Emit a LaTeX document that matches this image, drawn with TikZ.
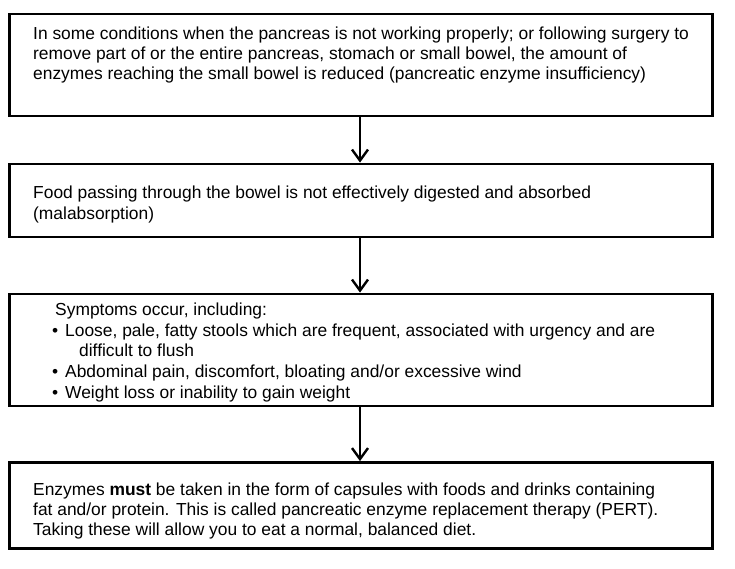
\documentclass[tikz,border=0pt]{standalone}
\usepackage{fontspec}
\setmainfont{Liberation Sans}
\usetikzlibrary{arrows.meta}
\tikzset{
  box/.style={draw=black, line width=2.8pt, rectangle, inner sep=0pt, minimum width=703pt},
  txt/.style={anchor=base west, inner sep=0pt, font=\fontsize{17.4}{20.3}\selectfont},
  flow/.style={line width=2.2pt, -{Straight Barb[length=11pt,width=16pt,line width=2.4pt]}}
}
\begin{document}
\begin{tikzpicture}[x=1pt,y=-1pt]
\useasboundingbox (0,0) rectangle (735,569);
\node[box, minimum height=102pt] (b1) at (361,65) {};
\node[box, minimum height=73pt] (b2) at (361,200.5) {};
\node[box, minimum height=112pt] (b3) at (361,350) {};
\node[box, minimum height=86pt] (b4) at (361,505.5) {};
\node[txt] (t1) at (33,39.3) {\begin{tabular}[t]{@{}l@{}}In some conditions when the pancreas is not working properly; or following surgery to\\
remove part of or the entire pancreas, stomach or small bowel, the amount of\\
enzymes reaching the small bowel is reduced (pancreatic enzyme insufficiency)\end{tabular}};
\node[txt] (t2) at (33,199) {\begin{tabular}[t]{@{}l@{}}Food passing through the bowel is not effectively digested and absorbed\\
(malabsorption)\end{tabular}};
\node[txt, font=\fontsize{17.4}{20.7}\selectfont] (t3) at (51,315.5) {\begin{tabular}[t]{@{}l@{}}\hspace{4pt}Symptoms occur, including:\\
\makebox[14pt][l]{\hspace{1pt}•}Loose, pale, fatty stools which are frequent, associated with urgency and are\\
\hspace{28pt}difficult to flush\\
\makebox[14pt][l]{\hspace{1pt}•}Abdominal pain, discomfort, bloating and/or excessive wind\\
\makebox[14pt][l]{\hspace{1pt}•}Weight loss or inability to gain weight\end{tabular}};
\node[txt] (t4) at (33,495) {\begin{tabular}[t]{@{}l@{}}Enzymes \textbf{must} be taken in the form of capsules with foods and drinks containing\\
fat and/or protein. This is called pancreatic enzyme replacement therapy (PERT).\\
Taking these will allow you to eat a normal, balanced diet.\end{tabular}};
\draw[flow] ([xshift=-1pt]b1.south) -- ([xshift=-1pt]b2.north);
\draw[flow] ([xshift=-1pt]b2.south) -- ([xshift=-1pt]b3.north);
\draw[flow] ([xshift=-1pt]b3.south) -- ([xshift=-1pt]b4.north);
\end{tikzpicture}
\end{document}
